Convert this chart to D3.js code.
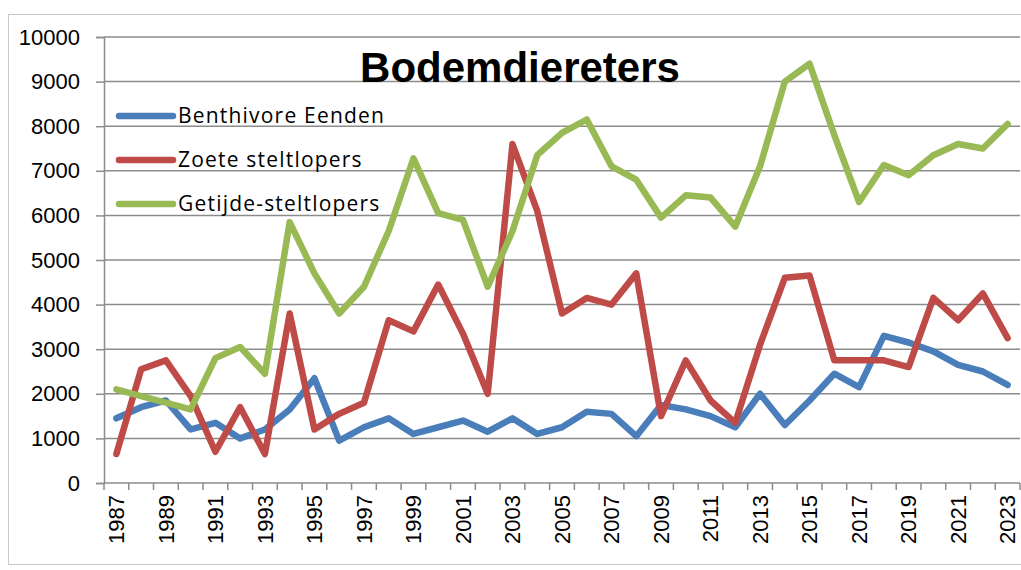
<!DOCTYPE html>
<html>
<head>
<meta charset="utf-8">
<script src="https://cdn.jsdelivr.net/npm/d3@7"></script>
<style>
  body { margin: 0; background: #fff; }
  svg { display: block; }
  text { font-family: "Liberation Sans", Arial, sans-serif; fill: #000; }
</style>
</head>
<body>
<div id="chart"></div>
<script>
// Years on the category axis
const years = d3.range(1987, 2024);

// Series values
const benthivoreEenden = [1450, 1700, 1850, 1200, 1350, 1000, 1200, 1650, 2350, 950,
  1250, 1450, 1100, 1250, 1400, 1150, 1450, 1100, 1250, 1600,
  1550, 1050, 1750, 1650, 1500, 1250, 2000, 1300, 1850, 2450,
  2150, 3300, 3150, 2950, 2650, 2500, 2200];

const zoeteSteltlopers = [650, 2550, 2750, 1950, 700, 1700, 650, 3800, 1200, 1550,
  1800, 3650, 3400, 4450, 3350, 2000, 7600, 6100, 3800, 4150,
  4000, 4700, 1500, 2750, 1850, 1350, 3100, 4600, 4650, 2750,
  2750, 2750, 2600, 4150, 3650, 4250, 3250];

const getijdeSteltlopers = [2100, 1950, 1800, 1650, 2800, 3050, 2450, 5850, 4700, 3800,
  4400, 5650, 7280, 6050, 5900, 4400, 5650, 7350, 7850, 8150,
  7100, 6800, 5950, 6450, 6400, 5750, 7100, 9000, 9400, 7800,
  6300, 7130, 6900, 7350, 7600, 7500, 8050];

const seriesNames = ["Benthivore Eenden", "Zoete steltlopers", "Getijde-steltlopers"];
const seriesColors = ["#4a7ebb", "#be4b48", "#98b954"];
const yTicks = d3.range(0, 10001, 1000);
const xTickLabels = years.filter((y, i) => i % 2 === 0);

const chartTitle = "Bodemdiereters";

const W = 1021, H = 570;
const plot = { left: 104, right: 1020, top: 37, bottom: 483 };

const svg = d3.select("#chart").append("svg")
  .attr("width", W)
  .attr("height", H);

// outer chart border
svg.append("rect")
  .attr("x", 8.5).attr("y", 14.5)
  .attr("width", 1040).attr("height", 550)
  .attr("fill", "none")
  .attr("stroke", "#c8c8c8");

const x = d3.scaleBand()
  .domain(years)
  .range([plot.left, plot.right])
  .padding(0);

const y = d3.scaleLinear()
  .domain([0, 10000])
  .range([plot.bottom, plot.top]);

// gridlines
svg.append("g")
  .selectAll("line")
  .data(yTicks.filter(d => d > 0))
  .enter().append("line")
    .attr("x1", plot.left).attr("x2", plot.right)
    .attr("y1", d => y(d)).attr("y2", d => y(d))
    .attr("stroke", "#8c8c8c")
    .attr("stroke-width", 1.5);

// Y axis
const yAxis = svg.append("g")
  .attr("transform", "translate(" + plot.left + ",0)")
  .call(d3.axisLeft(y).tickValues(yTicks).tickSize(8).tickPadding(16).tickFormat(d3.format("d")));
yAxis.select(".domain").attr("stroke", "#8c8c8c").attr("stroke-width", 1.5);
yAxis.selectAll(".tick line").attr("stroke", "#8c8c8c").attr("stroke-width", 1.5);
yAxis.selectAll(".tick text").style("font-size", "22px").attr("fill", "#000");

// X axis line and ticks between categories
const xAxis = svg.append("g");
xAxis.append("line")
  .attr("x1", plot.left).attr("x2", plot.right)
  .attr("y1", plot.bottom).attr("y2", plot.bottom)
  .attr("stroke", "#8c8c8c")
  .attr("stroke-width", 1.5);
xAxis.selectAll("line.tk")
  .data(years.concat([2024]))
  .enter().append("line")
    .attr("class", "tk")
    .attr("x1", d => d === 2024 ? plot.right : x(d))
    .attr("x2", d => d === 2024 ? plot.right : x(d))
    .attr("y1", plot.bottom).attr("y2", plot.bottom + 7)
    .attr("stroke", "#8c8c8c")
    .attr("stroke-width", 1.5);
xAxis.selectAll("text")
  .data(xTickLabels)
  .enter().append("text")
    .attr("transform", d => "translate(" + (x(d) + x.bandwidth() / 2) + "," + (plot.bottom + 12) + ") rotate(-90)")
    .attr("text-anchor", "end")
    .attr("dy", "0.35em")
    .style("font-size", "22px")
    .text(d => d);

// lines
const allSeries = [benthivoreEenden, zoeteSteltlopers, getijdeSteltlopers];
const line = d3.line()
  .x((d, i) => x(years[i]) + x.bandwidth() / 2)
  .y(d => y(d));

svg.append("g")
  .selectAll("path")
  .data(allSeries)
  .enter().append("path")
    .attr("d", line)
    .attr("fill", "none")
    .attr("stroke", (d, i) => seriesColors[i])
    .attr("stroke-width", 6.5)
    .attr("stroke-linejoin", "round")
    .attr("stroke-linecap", "round");

// legend
const legend = svg.append("g")
  .selectAll("g")
  .data(seriesNames)
  .enter().append("g")
    .attr("transform", (d, i) => "translate(119," + (116 + i * 44) + ")");
legend.append("line")
  .attr("x1", 0).attr("x2", 54)
  .attr("y1", 0).attr("y2", 0)
  .attr("stroke", (d, i) => seriesColors[i])
  .attr("stroke-width", 6.5)
  .attr("stroke-linecap", "round");
legend.append("text")
  .attr("x", 59)
  .attr("dy", "0.35em")
  .style("font-family", "'Open Sans', sans-serif")
  .style("font-size", "21px")
  .style("letter-spacing", "1.2px")
  .text(d => d);

// title
svg.append("text")
  .attr("x", 520)
  .attr("y", 82)
  .attr("text-anchor", "middle")
  .style("font-size", "42px")
  .style("font-weight", "bold")
  .text(chartTitle);
</script>
</body>
</html>
